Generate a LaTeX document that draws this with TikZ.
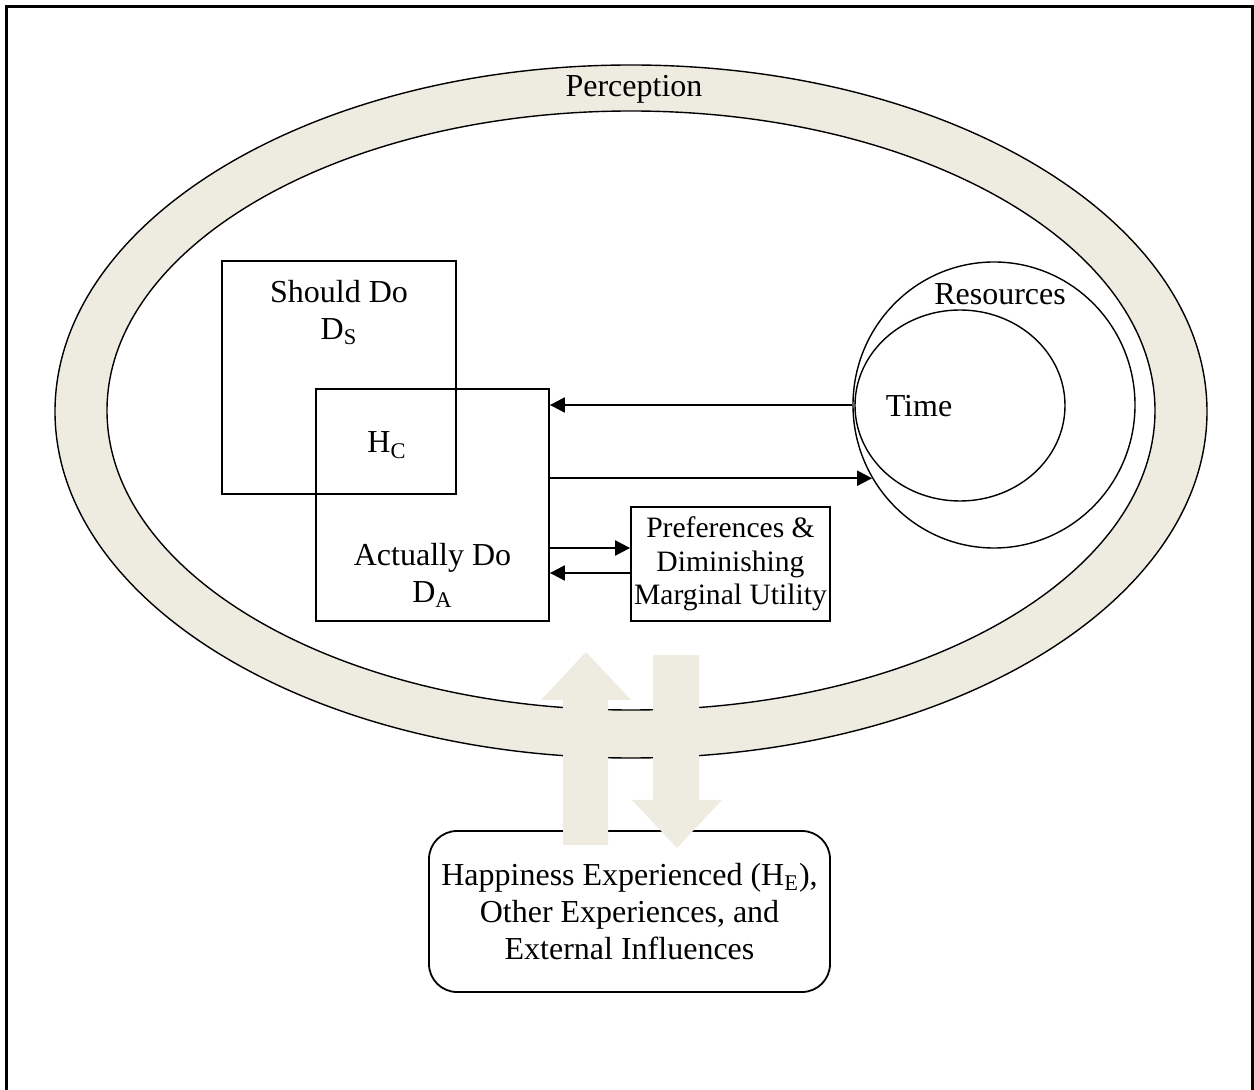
\documentclass[tikz,border=0pt]{standalone}
\usepackage{fontspec}
\setmainfont{Liberation Serif}
\usetikzlibrary{arrows.meta,shapes.geometric}
\definecolor{ringfill}{HTML}{EEECE1}

\begin{document}
\begin{tikzpicture}[x=0.5pt, y=-0.5pt,
    font=\fontsize{16}{18.5}\selectfont,
    box/.style={draw, line width=0.9pt, inner sep=0pt},
    oval/.style={draw, ellipse, line width=0.7pt, inner sep=0pt},
    conn/.style={line width=1.1pt, -{Triangle[length=7.5pt,width=7.5pt]}},
    lbl/.style={inner sep=0pt, align=center}]
    \useasboundingbox (0,0) rectangle (1254,1090);
    \draw[line width=1.5pt] (6.5,1090) -- (6.5,6.5) -- (1252.5,6.5) -- (1252.5,1090);

    \node[oval, fill=ringfill, minimum width=576pt, minimum height=346.5pt] (ringout) at (631,411.5) {};
    \node[oval, fill=white, minimum width=524pt, minimum height=299.5pt] (ringin) at (631,410.5) {};
    \node[lbl, anchor=base] (perc) at (634,97) {Perception};

    \node[box, minimum width=117pt, minimum height=116.5pt] (should) at (339,377.5) {};
    \node[box, minimum width=116.5pt, minimum height=116pt] (actual) at (432.5,505) {};
    \node[lbl, anchor=north] (shouldtxt) at (339,280) {Should Do\\D\textsubscript{S}};
    \node[lbl, anchor=north] (actualtxt) at (432.5,543) {Actually Do\\D\textsubscript{A}};
    \node[lbl, anchor=base] (hc) at (387,453) {H\textsubscript{C}};

    \node[box, minimum width=99.5pt, minimum height=57pt, font=\fontsize{14.8}{16.8}\selectfont, align=center] (pref) at (730.5,564) {Preferences \&\\Diminishing\\Marginal Utility};

    \node[oval, minimum width=141pt, minimum height=143pt] (res) at (994,405) {};
    \node[oval, minimum width=105pt, minimum height=95.5pt] (time) at (960,405.5) {};
    \node[lbl, anchor=base] (restxt) at (1000,305) {Resources};
    \node[lbl, anchor=base] (timetxt) at (919,417) {Time};

    \draw[conn] (res.west) -- (actual.east |- res.west);
    \draw[conn] (actual.east |- res.211) -- (res.211);
    \draw[conn] (actual.east |- 0,548) -- (pref.west |- 0,548);
    \draw[conn] (pref.west |- 0,573) -- (actual.east |- 0,573);

    \node[box, fill=white, rounded corners=14pt, minimum width=200.5pt, minimum height=80.5pt, align=center] (exp) at (629.5,911.5) {Happiness Experienced (H\textsubscript{E}),\\Other Experiences, and\\External Influences};

    \fill[ringfill] (563,845) -- (563,700) -- (541,700) -- (586,652) -- (631,700) -- (608,700) -- (608,845) -- cycle;
    \fill[ringfill] (653,655) -- (653,800) -- (632,800) -- (677,848) -- (722,800) -- (699,800) -- (699,655) -- cycle;
\end{tikzpicture}
\end{document}
